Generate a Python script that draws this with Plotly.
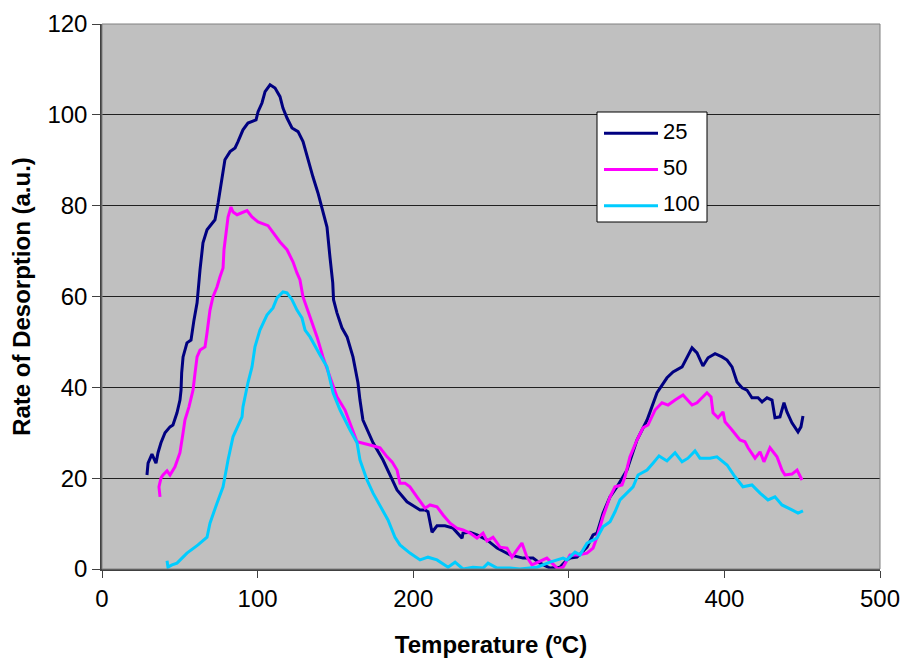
import plotly.graph_objects as go

# Temperature-programmed desorption curves for three loadings
t25 = [28.9, 29.6, 32.1, 33.4, 34.7, 36.0, 37.9, 40.5, 43.7, 45.6, 48.2, 50.1, 50.8, 51.2, 52.1,
       54.6, 57.2, 59.1, 61.1, 63.0, 64.9, 67.5, 72.6, 74.6, 75.2, 77.8, 79.0, 82.3, 85.5, 87.4,
       90.6, 93.8, 99.0, 100.3, 102.8, 104.8, 108.0, 111.2, 114.4, 116.3, 118.9, 122.1, 126.0,
       129.2, 132.4, 135.6, 138.8, 142.0, 144.6, 146.5, 148.3, 148.8, 151.0, 154.2, 157.5, 161.3,
       164.5, 165.8, 167.7, 174.2, 180.6, 189.6, 196.0, 204.4, 207.6, 209.5, 212.1, 215.3, 220.4,
       225.6, 231.4, 232.0, 236.5, 241.0, 247.4, 253.9, 262.2, 270.6, 277.0, 281.5, 287.9, 294.3,
       298.8, 300.8, 305.3, 311.7, 315.6, 318.1, 322.0, 326.5, 331.0, 337.4, 343.8, 350.3, 356.7,
       363.1, 367.0, 372.8, 376.0, 379.2, 382.4, 386.2, 389.5, 394.0, 398.5, 401.7, 404.9, 408.1,
       411.3, 414.5, 417.7, 421.6, 424.2, 427.4, 430.6, 432.5, 435.7, 438.3, 440.2, 443.4, 447.3,
       449.2, 450.5]
r25 = [20.7, 23.3, 25.3, 24.4, 23.3, 25.6, 27.8, 30.0, 31.3, 31.7, 34.4, 37.2, 39.4, 43.2, 46.7,
       49.8, 50.4, 54.8, 58.6, 65.9, 71.8, 74.7, 76.9, 80.6, 81.9, 87.9, 90.1, 91.9, 92.7, 94.1,
       96.7, 98.2, 98.9, 100.7, 102.6, 105.1, 106.6, 105.9, 104.0, 101.5, 99.3, 97.1, 96.3,
       94.1, 90.1, 86.3, 82.8, 78.4, 75.3, 68.7, 63.0, 59.3, 56.4, 53.1, 51.1, 46.7,
       41.0, 37.2, 32.8, 27.8, 24.0, 17.4, 14.8, 13.0, 13.0, 12.6, 8.1, 9.5, 9.5,
       9.0, 6.8, 7.9, 8.1, 7.5, 6.4, 4.6, 3.1, 2.4, 2.4, 1.3, 0.2, 0.4,
       2.0, 2.4, 2.6, 4.8, 7.5, 7.9, 12.3, 15.9, 18.1, 21.8, 28.4, 32.8, 38.8,
       42.1, 43.4, 44.5, 46.7, 48.7, 47.6, 44.7, 46.5, 47.4, 46.7, 46.0, 44.5, 41.2,
       39.9, 39.4, 37.7, 37.7, 36.8, 37.7, 37.2, 33.3, 33.5, 36.6, 34.6, 32.2, 30.2,
       31.3, 33.7]

t50 = [37.3, 36.6, 37.9, 39.2, 41.8, 43.7, 46.9, 50.1, 52.1, 53.3, 55.9, 58.5, 59.8, 61.1, 63.0,
       66.2, 67.5, 69.4, 71.3, 73.9, 75.8, 77.8, 78.4, 79.7, 81.0, 82.9, 84.2, 86.8, 90.0, 93.2,
       96.4, 100.3, 106.7, 109.9, 114.4, 118.9, 122.8, 125.3, 127.2, 129.2, 133.7, 138.2, 142.0,
       146.5, 151.0, 156.2, 159.4, 163.9, 172.2, 178.7, 183.2, 186.4, 189.6, 191.5, 194.7, 197.9,
       202.4, 207.6, 210.8, 215.3, 219.2, 223.7, 228.1, 232.0, 236.5, 241.0, 244.9, 247.4, 251.3,
       255.8, 260.3, 263.5, 266.7, 269.9, 273.1, 276.3, 280.2, 285.9, 289.2, 293.1, 296.3, 300.8,
       305.9, 311.7, 315.6, 318.1, 322.0, 326.5, 329.7, 334.2, 336.1, 339.3, 343.8, 347.7, 350.9,
       355.4, 359.9, 363.8, 368.3, 373.4, 379.2, 382.4, 388.8, 391.4, 392.7, 395.9, 399.1, 400.4,
       404.9, 410.0, 413.2, 415.2, 419.7, 422.9, 425.4, 429.3, 433.8, 437.0, 438.9, 443.4, 446.7,
       449.9]
r50 = [15.9, 18.1, 20.0, 20.7, 21.6, 20.7, 22.5, 25.6, 30.0, 32.8, 35.7, 39.4, 43.2, 46.7, 48.2,
       48.9, 52.0, 57.0, 59.9, 62.1, 64.3, 66.3, 70.3, 74.0, 77.5, 79.7, 78.6, 78.0, 78.4, 78.9,
       77.5, 76.4, 75.6, 74.2, 72.0, 70.3, 67.6, 65.2, 63.7, 59.9, 55.5, 51.1, 46.7,
       42.3, 37.9, 35.0, 32.2, 28.0, 27.3, 26.7, 24.7, 23.6, 21.8, 18.9, 18.9, 18.1,
       15.9, 13.4, 14.1, 13.7, 11.9, 10.1, 9.0, 8.6, 7.9, 6.8, 7.9, 6.2, 7.0,
       4.8, 4.6, 2.6, 4.2, 5.7, 2.6, 0.9, 1.5, 2.4, 1.3, 0.0, 0.4, 3.1,
       3.1, 3.5, 4.6, 7.0, 11.5, 15.9, 18.1, 18.5, 20.3, 24.7, 28.4, 31.1, 31.7,
       35.0, 36.6, 36.1, 37.2, 38.3, 36.1, 36.6, 38.8, 37.9, 34.4, 33.3, 34.6, 32.4,
       30.6, 28.4, 28.0, 26.7, 24.4, 25.8, 23.6, 26.7, 24.7, 21.8, 20.7, 20.9, 21.8,
       19.6]

t100 = [41.8, 42.4, 45.0, 48.2, 54.6, 61.7, 67.5, 69.4, 73.9, 77.8, 81.0, 84.2, 90.0, 90.6, 93.8,
        96.4, 98.3, 101.5, 106.0, 109.9, 112.5, 116.3, 118.9, 122.1, 125.3, 128.5, 130.5, 133.7,
        140.1, 144.6, 148.5, 153.0, 159.4, 163.9, 165.8, 170.3, 174.2, 180.0, 183.8, 188.3, 191.5,
        197.9, 204.4, 209.5, 215.3, 222.4, 226.9, 232.0, 238.4, 244.9, 248.1, 253.9, 262.2, 268.6,
        279.6, 287.9, 296.3, 298.8, 304.0, 307.2, 311.7, 318.1, 322.0, 326.5, 329.7, 332.9, 337.4,
        341.3, 344.5, 350.3, 354.1, 358.0, 363.1, 368.3, 372.8, 376.6, 381.1, 384.3, 390.7, 395.2,
        401.7, 406.8, 411.9, 417.7, 422.9, 428.0, 432.5, 437.0, 443.4, 447.3, 450.5]
r100 = [1.8, 0.4, 0.9, 1.3, 3.5, 5.3, 7.0, 10.1, 14.5, 18.1, 24.0, 29.1, 33.5, 35.7, 41.0,
        44.5, 48.9, 52.6, 55.9, 57.5, 59.7, 61.0, 60.8, 59.3, 57.0, 55.3, 52.6, 51.1,
        47.1, 44.5, 38.8, 35.0, 30.6, 27.8, 24.0, 19.6, 16.7, 13.0, 10.8, 7.0, 5.3,
        3.5, 2.0, 2.6, 2.0, 0.4, 1.5, 0.0, 0.4, 0.2, 1.3, 0.2, 0.2, 0.0,
        0.4, 1.5, 2.4, 2.0, 3.7, 3.1, 5.7, 6.8, 9.3, 10.4, 12.6, 15.2, 16.7,
        18.1, 20.7, 21.8, 23.3, 24.9, 23.8, 25.6, 23.6, 24.4, 26.0, 24.4, 24.4, 24.7,
        22.9, 20.3, 18.1, 18.5, 16.7, 15.2, 15.9, 14.1, 13.0, 12.3, 12.8]

series_names = ["25", "50", "100"]
series_colors = ["#000080", "#FF00FF", "#00CCFF"]
x_ticks = [0, 100, 200, 300, 400, 500]
y_ticks = [0, 20, 40, 60, 80, 100, 120]

FONT = "Liberation Sans, Arial, sans-serif"

fig = go.Figure()
for name, xs, ys, col in zip(series_names, [t25, t50, t100], [r25, r50, r100], series_colors):
    fig.add_trace(go.Scatter(x=xs, y=ys, mode="lines", name=name,
                             line=dict(color=col, width=3), showlegend=False))

# Plot-area frame
fig.add_shape(type="rect", xref="paper", yref="paper", x0=0, y0=0, x1=1, y1=1,
              line=dict(color="#808080", width=1), fillcolor="rgba(0,0,0,0)", layer="above")

# Boxed legend drawn in plot-paper coordinates
L, R, T, B = 597, 707, 112, 222
W, H = 778.0, 545.0
px = lambda x: (x - 102) / W
py = lambda y: (569 - y) / H
fig.add_shape(type="rect", xref="paper", yref="paper", x0=px(L), x1=px(R), y0=py(B), y1=py(T),
              line=dict(color="black", width=1), fillcolor="white", layer="above")
for i, (name, col) in enumerate(zip(series_names, series_colors)):
    yy = 133.3 + i * 36.2
    fig.add_shape(type="line", xref="paper", yref="paper", x0=px(604), x1=px(658),
                  y0=py(yy), y1=py(yy), line=dict(color=col, width=3), layer="above")
    fig.add_annotation(xref="paper", yref="paper", x=px(661), y=py(yy - 2), text=name,
                       showarrow=False, xanchor="left", yanchor="middle",
                       font=dict(family=FONT, size=22, color="black"))

fig.update_layout(
    width=903, height=658,
    margin=dict(l=102, r=23, t=24, b=89),
    paper_bgcolor="white",
    plot_bgcolor="#C0C0C0",
    font=dict(family=FONT, size=24, color="black"),
    xaxis=dict(range=[0, 500], tickvals=x_ticks, showgrid=False, zeroline=False,
               showline=True, linecolor="#404040", linewidth=1.5, automargin=False,
               ticks="outside", ticklen=7, tickcolor="#404040",
               tickfont=dict(size=24),
               title=dict(text="<b>Temperature (ºC)</b>", font=dict(size=24), standoff=28)),
    yaxis=dict(range=[0, 120], tickvals=y_ticks, showgrid=True, gridcolor="#202020", gridwidth=1,
               zeroline=False, showline=True, linecolor="#404040", linewidth=1.5, automargin=False,
               ticks="outside", ticklen=8, tickcolor="#404040",
               tickfont=dict(size=24),
               title=dict(text="<b>Rate of Desorption (a.u.)</b>", font=dict(size=24), standoff=10)),
)

fig.write_html("out.html")
